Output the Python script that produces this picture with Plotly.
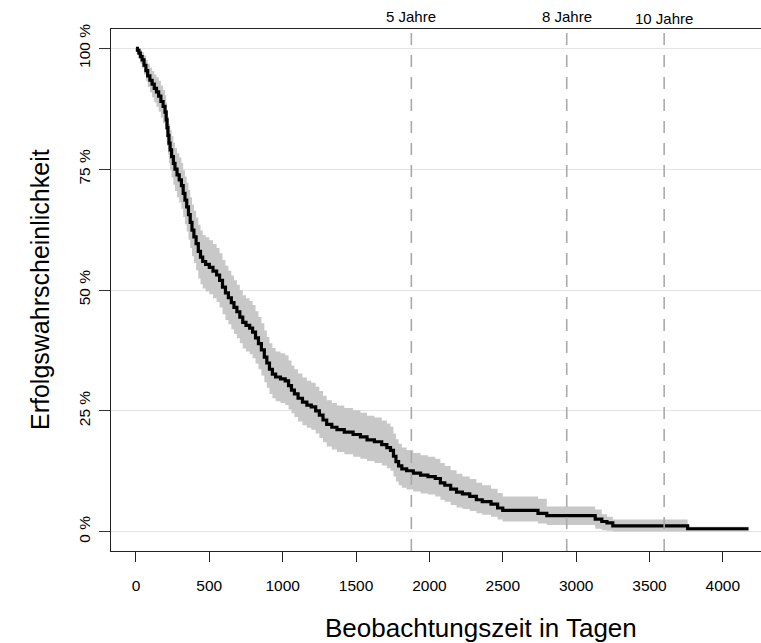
import plotly.graph_objects as go

# Kaplan-Meier estimate (in %) with its pointwise confidence band
days = [0, 10, 20, 30, 42, 55, 68, 80, 95, 110, 125, 140, 155, 170, 185, 198,
        206, 212, 218, 225, 233, 243, 255, 266, 280, 295, 310, 322, 334, 346,
        358, 370, 382, 395, 410, 425, 440, 455, 475, 500, 525, 550, 570, 590,
        610, 630, 650, 668, 688, 708, 728, 750, 775, 795, 815, 835, 855, 875,
        892, 910, 930, 952, 985, 1017, 1040, 1060, 1080, 1105, 1135, 1165,
        1195, 1225, 1250, 1275, 1300, 1335, 1370, 1420, 1480, 1530, 1575,
        1625, 1675, 1710, 1735, 1755, 1772, 1790, 1812, 1845, 1890, 1940,
        1990, 2040, 2075, 2105, 2145, 2185, 2225, 2275, 2320, 2360, 2420,
        2465, 2500, 2740, 2800, 3130, 3175, 3210, 3250, 3760, 4175]

surv = [100.0, 99.6, 99.0, 98.3, 97.6, 96.5, 95.4, 94.3, 93.4, 92.6, 91.7,
        91.0, 90.1, 89.0, 88.0, 86.8, 85.2, 83.6, 82.0, 80.4, 79.0, 77.6,
        76.2, 75.0, 73.8, 72.8, 71.6, 70.0, 68.6, 67.2, 65.6, 64.0, 62.4,
        61.0, 59.6, 58.0, 56.8, 55.9, 55.3, 54.7, 53.9, 53.1, 52.0, 50.6,
        49.4, 48.4, 47.4, 46.4, 45.5, 44.4, 43.3, 42.7, 42.1, 41.3, 40.1,
        38.9, 37.6, 36.1, 34.9, 33.6, 32.6, 32.0, 31.6, 31.2, 30.2, 29.3,
        28.5, 27.6, 26.8, 26.2, 25.8, 25.0, 24.1, 23.1, 22.2, 21.6, 21.1,
        20.6, 20.1, 19.6, 19.0, 18.6, 18.0, 17.4, 16.8, 15.6, 14.5, 13.6,
        13.0, 12.6, 12.1, 11.7, 11.4, 11.0, 10.1, 9.6, 8.8, 8.2, 7.8, 7.3,
        6.6, 6.2, 5.7, 4.9, 4.4, 3.8, 3.3, 2.6, 2.1, 1.8, 1.2, 0.6, 0.6]

lower = [100.0, 98.8, 97.9, 96.8, 95.9, 94.6, 93.3, 92.0, 90.9, 89.9, 88.8,
         87.9, 86.9, 85.7, 84.5, 83.2, 81.5, 79.8, 78.0, 76.3, 74.8, 73.3,
         71.8, 70.5, 69.2, 68.1, 66.8, 65.1, 63.6, 62.1, 60.4, 58.7, 57.0,
         55.6, 54.1, 52.4, 51.2, 50.3, 49.7, 49.1, 48.3, 47.5, 46.4, 45.0,
         43.8, 42.9, 41.9, 40.9, 40.0, 39.0, 37.9, 37.3, 36.7, 35.9, 34.8,
         33.6, 32.3, 30.9, 29.8, 28.5, 27.6, 27.0, 26.6, 26.2, 25.3, 24.5,
         23.7, 22.8, 22.0, 21.5, 21.1, 20.3, 19.4, 18.5, 17.6, 17.0, 16.5,
         16.0, 15.5, 15.1, 14.6, 14.2, 13.7, 13.1, 12.6, 11.4, 10.4, 9.6,
         9.1, 8.7, 8.3, 7.9, 7.7, 7.3, 6.6, 6.2, 5.5, 5.0, 4.7, 4.3, 3.8,
         3.5, 3.1, 2.5, 2.1, 1.7, 1.4, 0.6, 0.3, 0.2, 0.05, 0.05, 0.05]

upper = [100.0, 100.0, 100.0, 99.6, 99.2, 98.5, 97.6, 96.8, 96.0, 95.3,
         94.6, 94.0, 93.3, 92.3, 91.4, 90.3, 88.8, 87.3, 85.9, 84.4, 83.1,
         81.8, 80.5, 79.4, 78.3, 77.4, 76.3, 74.8, 73.5, 72.2, 70.7, 69.2,
         67.7, 66.4, 65.0, 63.5, 62.3, 61.4, 60.9, 60.3, 59.5, 58.7, 57.6,
         56.2, 55.0, 54.0, 53.0, 52.0, 51.1, 50.0, 48.9, 48.3, 47.7, 46.9,
         45.6, 44.4, 43.1, 41.6, 40.3, 39.0, 38.0, 37.3, 36.9, 36.5, 35.4,
         34.4, 33.6, 32.7, 31.9, 31.2, 30.8, 30.0, 29.1, 28.1, 27.2, 26.6,
         26.1, 25.6, 25.1, 24.6, 24.0, 23.6, 23.0, 22.4, 21.7, 20.3, 19.1,
         18.2, 17.4, 16.9, 16.3, 15.8, 15.5, 15.1, 14.2, 13.6, 12.7, 12.0,
         11.4, 10.9, 10.1, 9.6, 8.9, 8.0, 7.3, 6.8, 5.2, 4.6, 3.6, 3.1, 2.5,
         1.0, 1.0]

# Reference time points (days) and their labels
mark_days = [1877, 2936, 3600]
mark_labels = ["5 Jahre", "8 Jahre", "10 Jahre"]
mark_label_y = [1.023, 1.023, 1.020]

y_ticks = [0, 25, 50, 75, 100]
y_tick_text = ["0 %", "25 %", "50 %", "75 %", "100 %"]
x_ticks = [0, 500, 1000, 1500, 2000, 2500, 3000, 3500, 4000]

FONT = "Liberation Sans, Arial, Helvetica, sans-serif"

fig = go.Figure()

# confidence band: lower bound, then upper bound filled down to it
fig.add_trace(go.Scatter(x=days, y=lower, mode="lines", line_shape="hv",
                         line=dict(width=0, color="rgba(0,0,0,0)"),
                         hoverinfo="skip", showlegend=False))
fig.add_trace(go.Scatter(x=days, y=upper, mode="lines", line_shape="hv",
                         line=dict(width=0, color="rgba(0,0,0,0)"),
                         fill="tonexty", fillcolor="#c8c8c8",
                         hoverinfo="skip", showlegend=False))
# survival curve
fig.add_trace(go.Scatter(x=days, y=surv, mode="lines", line_shape="hv",
                         line=dict(width=3.2, color="black"),
                         showlegend=False))

for d in mark_days:
    fig.add_shape(type="line", xref="x", yref="paper", x0=d, x1=d, y0=0, y1=1,
                  line=dict(color="#aaaaaa", width=1.6, dash="12px,10px"),
                  layer="above")

for d, lab, yl in zip(mark_days, mark_labels, mark_label_y):
    fig.add_annotation(x=d, y=yl, xref="x", yref="paper", text=lab,
                       showarrow=False, xanchor="center", yanchor="middle",
                       font=dict(family=FONT, size=15, color="black"))

fig.add_annotation(x=0.5692, y=-0.1475, xref="paper", yref="paper",
                   text="Beobachtungszeit in Tagen", showarrow=False,
                   xanchor="center", yanchor="middle",
                   font=dict(family=FONT, size=26, color="black"))
fig.add_annotation(x=-0.1092, y=0.5, xref="paper", yref="paper",
                   text="Erfolgswahrscheinlichkeit", showarrow=False,
                   textangle=-90, xanchor="center", yanchor="middle",
                   font=dict(family=FONT, size=25, color="black"))

fig.update_xaxes(range=[-170, 4260], tickmode="array", tickvals=x_ticks,
                 ticks="outside", ticklen=10, tickwidth=1.2, tickcolor="#222",
                 showline=True, linecolor="#222", linewidth=1.2, mirror=True,
                 showgrid=False, zeroline=False, ticklabelstandoff=10,
                 tickfont=dict(family=FONT, size=15.5, color="black"))
fig.update_yaxes(range=[-4, 104], tickmode="array", tickvals=y_ticks,
                 ticktext=y_tick_text, tickangle=-90,
                 ticks="outside", ticklen=11, tickwidth=1.2, tickcolor="#333",
                 showline=True, linecolor="#222", linewidth=1.2, mirror=False,
                 showgrid=True, gridcolor="#e4e4e4", gridwidth=1,
                 zeroline=False, ticklabelstandoff=3,
                 tickfont=dict(family=FONT, size=15.5, color="black"))

fig.update_layout(width=761, height=643,
                  margin=dict(l=111, r=0, t=29, b=92),
                  paper_bgcolor="white", plot_bgcolor="white")

fig.write_html("out.html")
